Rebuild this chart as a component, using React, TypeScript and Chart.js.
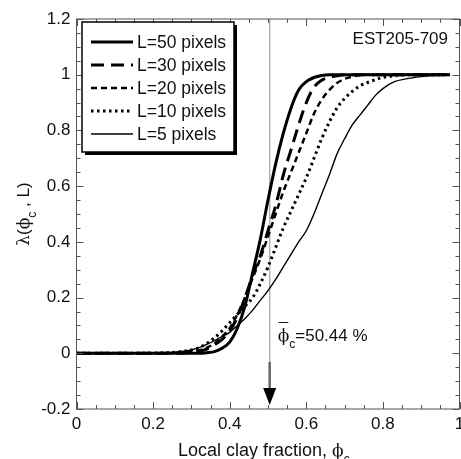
import React, { useEffect, useRef } from 'react';
import { Chart, registerables } from 'chart.js';

Chart.register(...registerables);

const phi = [0, 0.05, 0.1, 0.15, 0.2, 0.25, 0.3, 0.32, 0.34, 0.36, 0.38, 0.4, 0.42, 0.44, 0.46, 0.48, 0.5, 0.52, 0.54, 0.56, 0.58, 0.6, 0.62, 0.64, 0.66, 0.68, 0.7, 0.72, 0.74, 0.76, 0.78, 0.8, 0.83, 0.86, 0.9, 0.94, 0.975];

const lambdaL50 = [0, 0, 0, 0, 0, 0, 0, 0, 0.002, 0.006, 0.018, 0.04, 0.09, 0.17, 0.29, 0.41, 0.55, 0.68, 0.79, 0.88, 0.945, 0.975, 0.99, 0.997, 1, 1, 1, 1, 1, 1, 1, 1, 1, 1, 1, 1, 1];
const lambdaL30 = [0, 0, 0, 0, 0, 0, 0.003, 0.007, 0.015, 0.03, 0.05, 0.08, 0.13, 0.2, 0.28, 0.35, 0.44, 0.53, 0.64, 0.73, 0.82, 0.9, 0.955, 0.98, 0.99, 0.996, 1, 1, 1, 1, 1, 1, 1, 1, 1, 1, 1];
const lambdaL20 = [0, 0, 0, 0, 0, 0.001, 0.005, 0.01, 0.02, 0.035, 0.06, 0.09, 0.14, 0.2, 0.27, 0.34, 0.42, 0.5, 0.58, 0.65, 0.72, 0.79, 0.86, 0.91, 0.945, 0.97, 0.985, 0.993, 0.998, 1, 1, 1, 1, 1, 1, 1, 1];
const lambdaL10 = [0, 0, 0, 0, 0.001, 0.003, 0.012, 0.02, 0.035, 0.055, 0.08, 0.11, 0.14, 0.17, 0.2, 0.25, 0.31, 0.38, 0.45, 0.51, 0.57, 0.63, 0.7, 0.77, 0.83, 0.88, 0.915, 0.94, 0.96, 0.972, 0.982, 0.99, 0.996, 1, 1, 1, 1];
const lambdaL5 = [0, 0, 0, 0, 0, 0.003, 0.012, 0.02, 0.032, 0.045, 0.06, 0.075, 0.1, 0.125, 0.155, 0.19, 0.225, 0.265, 0.31, 0.355, 0.4, 0.44, 0.5, 0.57, 0.64, 0.715, 0.77, 0.82, 0.855, 0.89, 0.925, 0.95, 0.975, 0.985, 0.993, 0.998, 1];

const seriesLabels = ['L=50 pixels', 'L=30 pixels', 'L=20 pixels', 'L=10 pixels', 'L=5 pixels'];

const xTickValues = [0, 0.2, 0.4, 0.6, 0.8, 1];
const xTickLabels = ['0', '0.2', '0.4', '0.6', '0.8', '1'];
const yTickValues = [-0.2, 0, 0.2, 0.4, 0.6, 0.8, 1, 1.2];
const yTickLabels = ['-0.2', '0', '0.2', '0.4', '0.6', '0.8', '1', '1.2'];

const meanPhi = 0.5044;
const meanLabel = '=50.44 %';
const sampleLabel = 'EST205-709';
const xTitle = 'Local clay fraction, ';

const SANS = '"Liberation Sans", Arial, sans-serif';
const SERIF = '"DejaVu Serif", "Liberation Serif", serif';
const PHI = '\u03d5';
const LAMBDA = '\u03bb';

const seriesStyles = [
  { width: 3, dash: [] as number[] },
  { width: 3, dash: [13, 7] },
  { width: 2.5, dash: [6, 4] },
  { width: 3, dash: [2.5, 3.5] },
  { width: 1.4, dash: [] as number[] },
];

const seriesData = [lambdaL50, lambdaL30, lambdaL20, lambdaL10, lambdaL5];

const decorPlugin = {
  id: 'decor',
  beforeDatasetsDraw(chart: any) {
    const { ctx, chartArea, scales } = chart;
    const xp = scales.x.getPixelForValue(meanPhi);
    ctx.save();
    ctx.strokeStyle = '#b0b0b0';
    ctx.lineWidth = 1.5;
    ctx.beginPath();
    ctx.moveTo(xp, chartArea.top);
    ctx.lineTo(xp, 362);
    ctx.stroke();
    ctx.restore();
  },
  afterDatasetsDraw(chart: any) {
    const { ctx, chartArea, scales } = chart;
    const { left, right, top, bottom } = chartArea;
    const xs = scales.x;
    const ys = scales.y;
    ctx.save();

    // frame
    ctx.strokeStyle = '#555';
    ctx.lineWidth = 1;
    ctx.strokeRect(left, top, right - left, bottom - top);

    // ticks
    ctx.beginPath();
    for (let i = 0; i <= 20; i++) {
      const v = i * 0.05;
      const p = Math.round(xs.getPixelForValue(v)) + 0.5;
      const len = i % 4 === 0 ? 7 : 4;
      ctx.moveTo(p, bottom);
      ctx.lineTo(p, bottom - len);
      ctx.moveTo(p, top);
      ctx.lineTo(p, top + len);
    }
    for (let i = 0; i <= 28; i++) {
      const v = -0.2 + i * 0.05;
      const p = Math.round(ys.getPixelForValue(v)) + 0.5;
      const len = i % 4 === 0 ? 7 : 4;
      ctx.moveTo(left, p);
      ctx.lineTo(left + len, p);
      ctx.moveTo(right, p);
      ctx.lineTo(right - len, p);
    }
    ctx.stroke();

    // mean arrow
    const xp = xs.getPixelForValue(meanPhi);
    ctx.strokeStyle = '#666';
    ctx.lineWidth = 2.5;
    ctx.beginPath();
    ctx.moveTo(xp, 362);
    ctx.lineTo(xp, 389);
    ctx.stroke();
    ctx.fillStyle = '#000';
    ctx.beginPath();
    ctx.moveTo(xp - 6.5, 388);
    ctx.lineTo(xp + 6.5, 388);
    ctx.lineTo(xp, 405);
    ctx.closePath();
    ctx.fill();

    // mean annotation
    ctx.fillStyle = '#111';
    ctx.textBaseline = 'alphabetic';
    ctx.textAlign = 'left';
    ctx.font = `17px ${SERIF}`;
    const ax = xp + 8;
    const ay = 341;
    ctx.fillText(PHI, ax, ay);
    const phW = ctx.measureText(PHI).width;
    ctx.strokeStyle = '#111';
    ctx.lineWidth = 1;
    ctx.beginPath();
    ctx.moveTo(ax + 1, 322.5);
    ctx.lineTo(ax + phW - 1, 322.5);
    ctx.stroke();
    ctx.font = `12px ${SANS}`;
    ctx.fillText('c', ax + phW, ay + 7);
    const cW = ctx.measureText('c').width;
    ctx.font = `17px ${SANS}`;
    ctx.fillText(meanLabel, ax + phW + cW, ay);

    // sample label
    ctx.font = `17px ${SANS}`;
    ctx.textAlign = 'right';
    ctx.fillText(sampleLabel, 448, 44);

    // legend
    const lx = 82, ly = 22, lw = 152, lh = 130;
    ctx.fillStyle = '#000';
    ctx.fillRect(lx + 3, ly + 3, lw, lh);
    ctx.fillStyle = '#fff';
    ctx.fillRect(lx, ly, lw, lh);
    ctx.strokeStyle = '#000';
    ctx.lineWidth = 1.5;
    ctx.strokeRect(lx, ly, lw, lh);
    const rows = [42, 65, 88, 111, 134];
    seriesLabels.forEach((lab, i) => {
      const st = seriesStyles[i];
      ctx.strokeStyle = '#000';
      ctx.lineWidth = st.width;
      ctx.setLineDash(st.dash);
      ctx.beginPath();
      ctx.moveTo(91, rows[i]);
      ctx.lineTo(133, rows[i]);
      ctx.stroke();
      ctx.setLineDash([]);
      ctx.fillStyle = '#111';
      ctx.font = `17.5px ${SANS}`;
      ctx.textAlign = 'left';
      ctx.textBaseline = 'middle';
      ctx.fillText(lab, 137, rows[i] + 1);
    });

    // x title
    ctx.textBaseline = 'alphabetic';
    ctx.textAlign = 'left';
    ctx.font = `18px ${SANS}`;
    const tx = 178;
    const ty = 456;
    ctx.fillText(xTitle, tx, ty);
    const tW = ctx.measureText(xTitle).width;
    ctx.font = `17px ${SERIF}`;
    ctx.fillText(PHI, tx + tW, ty);
    const fW = ctx.measureText(PHI).width;
    ctx.font = `12px ${SANS}`;
    ctx.fillText('c', tx + tW + fW, ty + 7);

    // y title
    ctx.save();
    ctx.translate(23, 214);
    ctx.rotate(-Math.PI / 2);
    const pieces = [
      { t: LAMBDA, f: `17px ${SERIF}`, dy: 0 },
      { t: '(', f: `17px ${SANS}`, dy: 0 },
      { t: PHI, f: `17px ${SERIF}`, dy: 0 },
      { t: 'c', f: `12px ${SANS}`, dy: 7 },
      { t: ' , L)', f: `17px ${SANS}`, dy: 0 },
    ];
    let total = 0;
    pieces.forEach((p) => { ctx.font = p.f; total += ctx.measureText(p.t).width; });
    let cx = -total / 2;
    pieces.forEach((p) => {
      ctx.font = p.f;
      ctx.fillText(p.t, cx, 6 + p.dy);
      cx += ctx.measureText(p.t).width;
    });
    ctx.restore();

    ctx.restore();
  },
};

export default function App() {
  const ref = useRef<HTMLCanvasElement>(null);
  useEffect(() => {
    if (!ref.current) return;
    const chart = new Chart(ref.current, {
      type: 'line',
      data: {
        datasets: seriesData.map((arr, i) => ({
          label: seriesLabels[i],
          data: phi.map((x, k) => ({ x, y: arr[k] })),
          borderColor: '#000',
          borderWidth: seriesStyles[i].width,
          borderDash: seriesStyles[i].dash,
          pointRadius: 0,
          fill: false,
          cubicInterpolationMode: 'monotone' as const,
        })),
      },
      options: {
        responsive: false,
        animation: false,
        events: [],
        layout: { padding: { top: 19, right: 1.5, left: 0, bottom: 0 } },
        plugins: { legend: { display: false }, tooltip: { enabled: false } },
        scales: {
          x: {
            type: 'linear',
            min: 0,
            max: 1,
            grid: { display: false, drawTicks: false },
            border: { display: false },
            afterBuildTicks: (s: any) => { s.ticks = xTickValues.map((v) => ({ value: v })); },
            afterFit: (s: any) => { s.height = 50; s.paddingLeft = 0; s.paddingRight = 0; },
            ticks: {
              autoSkip: false,
              maxRotation: 0,
              padding: 5,
              color: '#111',
              font: { family: SANS, size: 17 },
              callback: (_v: any, i: number) => xTickLabels[i],
            },
          },
          y: {
            type: 'linear',
            min: -0.2,
            max: 1.2,
            grid: { display: false, drawTicks: false },
            border: { display: false },
            afterBuildTicks: (s: any) => { s.ticks = yTickValues.map((v) => ({ value: v })); },
            afterFit: (s: any) => { s.width = 76.5; s.paddingTop = 0; s.paddingBottom = 0; },
            ticks: {
              autoSkip: false,
              padding: 6,
              color: '#111',
              font: { family: SANS, size: 17 },
              callback: (_v: any, i: number) => yTickLabels[i],
            },
          },
        },
      },
      plugins: [decorPlugin],
    });
    return () => chart.destroy();
  }, []);
  return (
    <div style={{ position: 'absolute', left: 0, top: 0, width: 461, height: 459, background: '#fff' }}>
      <canvas ref={ref} width={461} height={459} style={{ display: 'block' }} />
    </div>
  );
}
